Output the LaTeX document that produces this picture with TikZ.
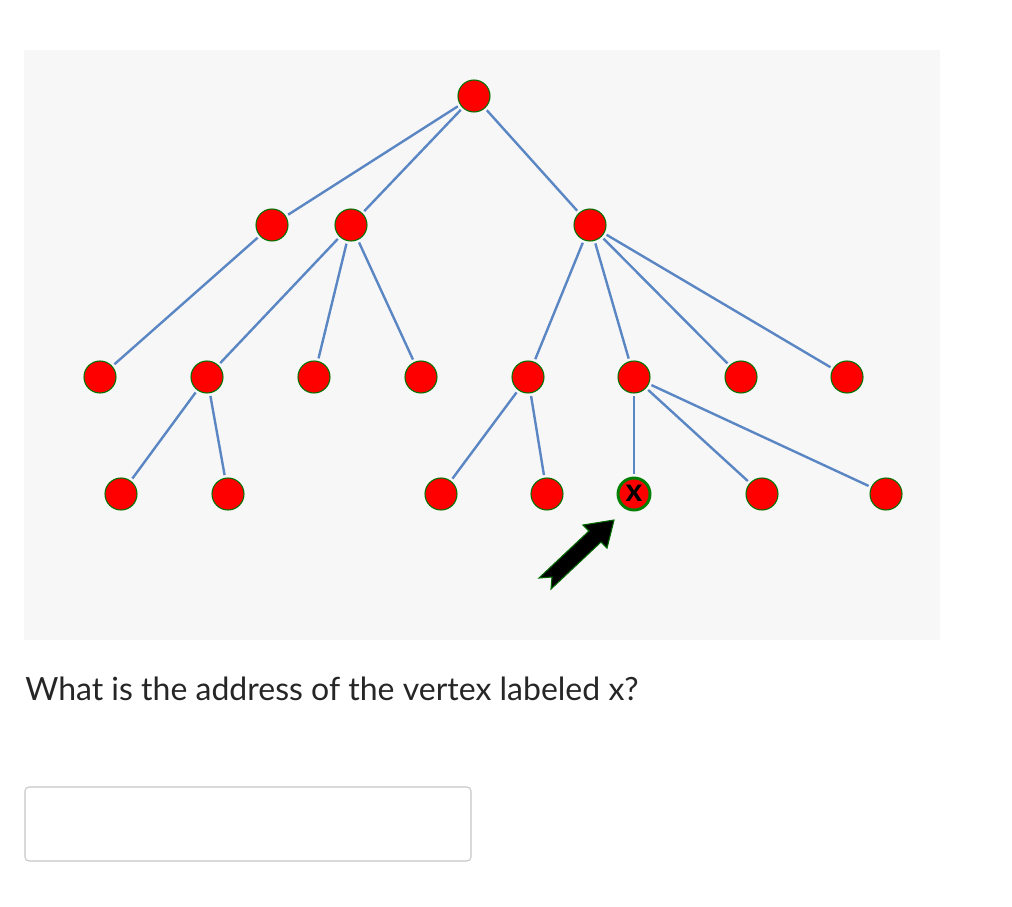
\documentclass[tikz,border=0pt]{standalone}
\usepackage{fontspec}
\setmainfont{Lato}
\definecolor{edgeblue}{HTML}{5B86C4}
\begin{document}
\begin{tikzpicture}[x=0.75pt,y=-0.75pt,
  v/.style={circle,fill=red,draw=green!45!black,line width=0.8pt,minimum size=24pt,inner sep=0pt},
  e/.style={draw=edgeblue,line width=1.8pt}]
\useasboundingbox (0,0) rectangle (1012,906);
\fill[gray!6] (24,50) rectangle (940,640);
\node[v] (r) at (474,96) {};
\node[v] (a) at (272,225) {};
\node[v] (b) at (351,225) {};
\node[v] (c) at (590,225) {};
\foreach \n/\x in {l1/100,l2/207,l3/314,l4/421,l5/528,l6/634,l7/741,l8/847}
  \node[v] (\n) at (\x,377) {};
\foreach \n/\x in {m1/121,m2/228,m3/441,m4/547,m6/762,m7/886}
  \node[v] (\n) at (\x,494) {};
\node[v,draw=green!50!black,line width=2.2pt,font=\bfseries\fontsize{24pt}{24pt}\selectfont] (mx) at (634,494) {\raisebox{1pt}{x}};
\foreach \p/\q in {r/a,r/b,r/c,a/l1,b/l2,b/l3,b/l4,c/l5,c/l6,c/l7,c/l8,l2/m1,l2/m2,l5/m3,l5/m4,l6/mx,l6/m6,l6/m7}
  \draw[e,shorten <=2pt,shorten >=2pt] (\p) -- (\q);
\fill[black,draw=green!40!black,line width=0.8pt] (614,520) -- (607,548) -- (601,542) -- (551,589) -- (552,577) -- (539,578) -- (589,531) -- (583,525) -- cycle;
\node[anchor=base west,inner sep=0pt,font=\fontsize{24pt}{27pt}\selectfont,text=black!85] (q) at (25,700) {What is the address of the vertex labeled x?};
\draw[gray!45,line width=0.8pt,rounded corners=3pt] (25,787) rectangle (471,861);
\end{tikzpicture}
\end{document}
